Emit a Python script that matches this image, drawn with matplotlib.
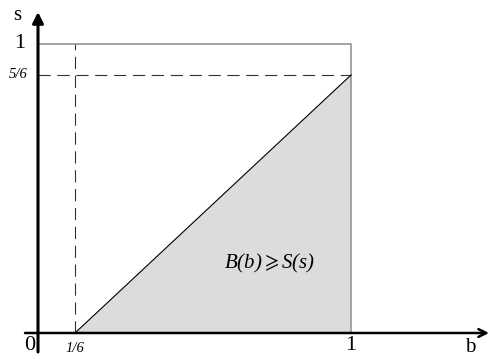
import numpy as np
import matplotlib
matplotlib.use("Agg")
import matplotlib.pyplot as plt

# values of the schematic (b and s in [0, 1])
b_low = 1 / 6
b_high = 1.0
s_low = 0.0
s_high = 5 / 6
s_top = 1.0

region_b = [b_low, b_high, b_high]
region_s = [s_low, s_low, s_high]
# the slanted "greater or equal" sign comes from the stix math font
region_label = r"B(b)$\geqslant$S(s)"

x_tick_vals = [0, b_low, b_high]
x_tick_text = ["0", "1/6", "1"]
y_tick_vals = [s_high, s_top]
y_tick_text = ["5/6", "1"]

# the drawing is not to scale, so use a piecewise linear scale on each axis
bx_knots = [-1, 0, 1 / 6, 1, 2]
bx_pix = [38 - 222, 38, 75, 351, 351 + 331]
sy_knots = [-1, 0, 5 / 6, 1, 2]
sy_pix = [26 - 310, 26, 284, 315, 315 + 186]


def fx(v):
    return np.interp(v, bx_knots, bx_pix)


def fx_inv(p):
    return np.interp(p, bx_pix, bx_knots)


def fy(v):
    return np.interp(v, sy_knots, sy_pix)


def fy_inv(p):
    return np.interp(p, sy_pix, sy_knots)


serif = ["Liberation Serif", "DejaVu Serif"]

fig = plt.figure(figsize=(4.9, 3.59), dpi=100)
ax = fig.add_axes([0, 0, 1, 1])
ax.set_xscale("function", functions=(fx, fx_inv))
ax.set_yscale("function", functions=(fy, fy_inv))
ax.set_xlim(fx_inv(0), fx_inv(490))
ax.set_ylim(fy_inv(0), fy_inv(359))
ax.axis("off")

# shaded triangle and diagonal
ax.fill(region_b, region_s, color="#dcdcdc", lw=0, zorder=1)
ax.plot([b_low, b_high], [s_low, s_high], color="black", lw=0.8, zorder=3)

# grey box
ax.plot([0, b_high, b_high], [s_top, s_top, s_low], color="#8c8c8c", lw=1.1, zorder=2)

# dashed guides
ax.plot([b_low, b_low], [s_low, s_top], color="#333333", lw=0.8,
        linestyle=(0, (11, 6)), zorder=2)
ax.plot([0, b_high], [s_high, s_high], color="#333333", lw=0.8,
        linestyle=(0, (11, 6)), zorder=2)

# axes with arrows
ax.annotate("", xy=(0, fy_inv(347)), xytext=(0, fy_inv(7)),
            arrowprops=dict(arrowstyle="-|>", lw=2.2, color="black",
                            mutation_scale=16, shrinkA=0, shrinkB=0), zorder=4)
ax.annotate("", xy=(fx_inv(489), 0), xytext=(fx_inv(25), 0),
            arrowprops=dict(arrowstyle="->", lw=1.8, color="black",
                            mutation_scale=14, shrinkA=0, shrinkB=0), zorder=4)

# tick labels
ax.text(fx_inv(30), fy_inv(13), x_tick_text[0], fontsize=16, family=serif,
        ha="center", va="center")
ax.text(x_tick_vals[1], fy_inv(11), x_tick_text[1], fontsize=10.5, family=serif,
        style="italic", ha="center", va="center")
ax.text(x_tick_vals[2], fy_inv(13), x_tick_text[2], fontsize=16, family=serif,
        ha="center", va="center")
ax.text(fx_inv(18), y_tick_vals[0], y_tick_text[0], fontsize=10.5, family=serif,
        style="italic", ha="center", va="center")
ax.text(fx_inv(20), fy_inv(315), y_tick_text[1], fontsize=16, family=serif,
        ha="center", va="center")

# axis names
ax.text(fx_inv(470), fy_inv(12), "b", fontsize=15, family=serif,
        ha="center", va="center")
ax.text(fx_inv(17), fy_inv(344), "s", fontsize=15, family=serif,
        ha="center", va="center")

ax.text(fx_inv(270), fy_inv(96), region_label, fontsize=15, family=serif,
        style="italic", ha="center", va="center", math_fontfamily="stix")

fig.savefig("out.png", dpi=100)
